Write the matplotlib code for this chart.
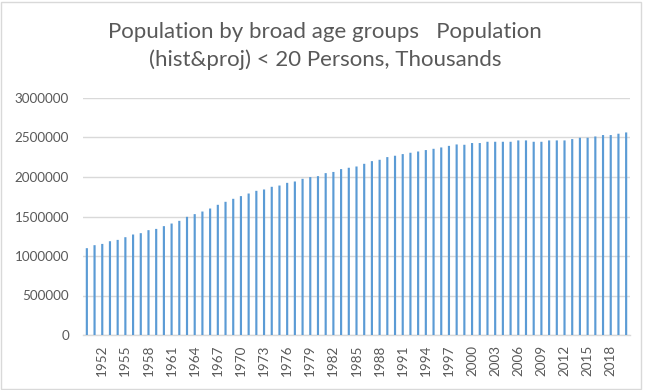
import matplotlib
matplotlib.use("Agg")
import matplotlib.pyplot as plt
from matplotlib.patches import Rectangle

years = list(range(1950, 2021))
values = [
    1099000, 1137000, 1153000, 1187000, 1204000, 1238000, 1272000, 1289000, 1327000, 1343000,
    1378000, 1411000, 1445000, 1496000, 1530000, 1563000, 1601000, 1648000, 1686000, 1724000,
    1758000, 1791000, 1825000, 1842000, 1876000, 1892000, 1926000, 1943000, 1977000, 1999000,
    2011000, 2049000, 2064000, 2100000, 2117000, 2133000, 2167000, 2201000, 2218000, 2252000,
    2269000, 2290000, 2307000, 2323000, 2341000, 2357000, 2374000, 2394000, 2412000, 2408000,
    2430000, 2430000, 2446000, 2446000, 2446000, 2446000, 2463000, 2463000, 2446000, 2446000,
    2463000, 2463000, 2463000, 2480000, 2497000, 2497000, 2513000, 2531000, 2531000, 2548000,
    2564000,
]
y_ticks = [0, 500000, 1000000, 1500000, 2000000, 2500000, 3000000]
label_years = list(range(1952, 2019, 3))
title = "Population by broad age groups   Population\n(hist&proj) < 20 Persons, Thousands"

plt.rcParams['font.family'] = ['Lato', 'DejaVu Sans']
text_color = "#595959"
grid_color = "#D9D9D9"
bar_color = "#5B9BD5"

fig = plt.figure(figsize=(6.5, 3.9), dpi=100)
ax = fig.add_axes([83/650, 55/390, 547/650, 237/390])

x = list(range(len(years)))
ax.bar(x, values, width=0.28, color=bar_color, zorder=3, snap=False)

ax.set_xlim(-0.5, len(years) - 0.5)
ax.set_ylim(0, 3000000)
ax.set_yticks(y_ticks)
ax.set_yticklabels([str(v) for v in y_ticks])
ax.yaxis.grid(True, color=grid_color, linewidth=1, zorder=0)
ax.set_axisbelow(True)

tick_pos = [years.index(y) for y in label_years]
ax.set_xticks(tick_pos)
ax.set_xticklabels([str(y) for y in label_years], rotation=90)

for s in ["top", "right", "left"]:
    ax.spines[s].set_visible(False)
ax.spines["bottom"].set_color(grid_color)
ax.spines["bottom"].set_linewidth(1)

ax.tick_params(axis="y", length=0, pad=10, labelsize=9.7, labelcolor=text_color)
ax.tick_params(axis="x", length=0, pad=7, labelsize=9.7, labelcolor=text_color)

fig.text(0.5, 1 - 46/390, title, ha="center", va="center", fontsize=16,
         color=text_color, linespacing=1.42)

fig.patches.append(Rectangle((1/650, 1/390), 640/650, 387/390, transform=fig.transFigure,
                             fill=False, edgecolor="#D9D9D9", linewidth=1))

fig.savefig("out.png", dpi=100)
